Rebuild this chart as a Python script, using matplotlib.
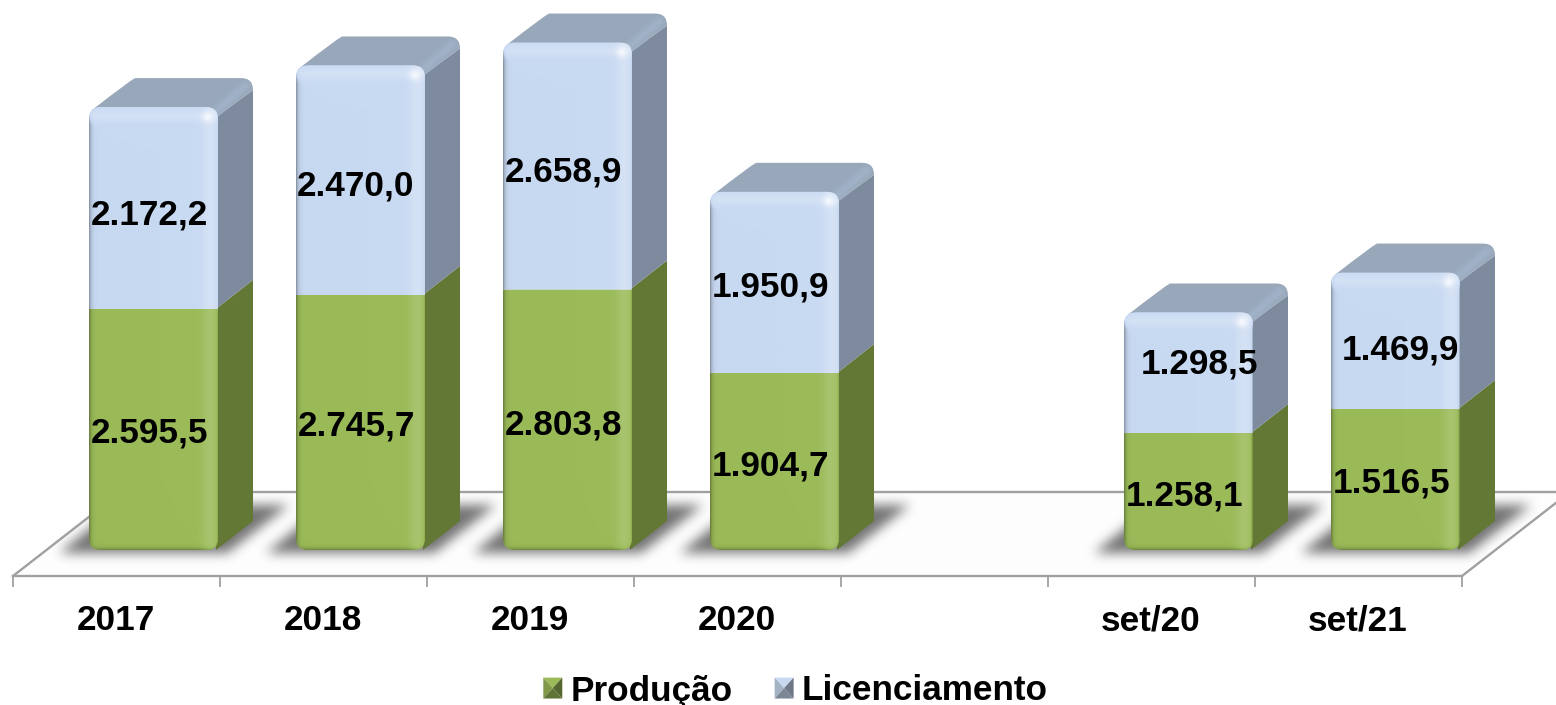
import numpy as np
import matplotlib
matplotlib.use('Agg')
import matplotlib.pyplot as plt
from matplotlib.colors import to_rgb
from matplotlib.legend_handler import HandlerBase
from matplotlib.patches import Patch, PathPatch, Polygon
from matplotlib.path import Path

plt.rcParams['font.family'] = ['Liberation Sans', 'DejaVu Sans']

categories = ['2017', '2018', '2019', '2020', 'set/20', 'set/21']
positions = [0, 1, 2, 3, 5, 6]
producao = [2595.5, 2745.7, 2803.8, 1904.7, 1258.1, 1516.5]
licenciamento = [2172.2, 2470.0, 2658.9, 1950.9, 1298.5, 1469.9]
prod_labels = ['2.595,5', '2.745,7', '2.803,8', '1.904,7', '1.258,1', '1.516,5']
lic_labels = ['2.172,2', '2.470,0', '2.658,9', '1.950,9', '1.298,5', '1.469,9']
tick_edges = [-0.5, 0.5, 1.5, 2.5, 3.5, 4.5, 5.5, 6.5]

# label nudges in pixels (dx, dy down), the originals were moved by hand
prod_nudge = [(-4, 4), (-4, 4), (-4, 5), (-4, 4), (-4, 4), (-4, 3)]
lic_nudge = [(-4, 7), (-5, 6), (-4, 6), (-4, 5), (11, -9), (5, 9)]

GREEN = '#9BBB59'
BLUE = '#C8D9F2'
GREEN_SIDE = '#647836'
BLUE_SIDE = '#7E8B9E'
BLUE_TOP = '#98A8BA'
AXIS_GRAY = '#A0A0A0'
FONT_SIZE = 25.3

W, H = 1556, 705
X_SCALE = 207.0     # pixels per category
Y_SCALE = 0.0929    # pixels per unit
X0, Y0 = 116, 550   # pixel position of category 0 and of value 0
BAR_W = 129
DX, DY = 36, 29     # depth of the 3d effect


def dx(p):
    return p / X_SCALE


def dy(p):
    return p / Y_SCALE


def to_x(p):
    return (p - X0) / X_SCALE


def to_y(p):
    return (Y0 - p) / Y_SCALE


def front_path(x0, x1, y0, y1, r_top, r_bot):
    rx_t, ry_t, rx_b, ry_b = dx(r_top), dy(r_top), dx(r_bot), dy(r_bot)
    verts = [(x0 + rx_b, y0), (x1 - rx_b, y0), (x1, y0), (x1, y0 + ry_b),
             (x1, y1 - ry_t), (x1, y1), (x1 - rx_t, y1),
             (x0 + rx_t, y1), (x0, y1), (x0, y1 - ry_t),
             (x0, y0 + ry_b), (x0, y0), (x0 + rx_b, y0), (x0 + rx_b, y0)]
    codes = [Path.MOVETO, Path.LINETO, Path.CURVE3, Path.CURVE3,
             Path.LINETO, Path.CURVE3, Path.CURVE3,
             Path.LINETO, Path.CURVE3, Path.CURVE3,
             Path.LINETO, Path.CURVE3, Path.CURVE3, Path.CLOSEPOLY]
    return Path(verts, codes)


def front_texture(color, h_px, top, bottom):
    base = np.array(to_rgb(color))
    u, v = np.meshgrid(np.arange(BAR_W), np.arange(h_px))
    band = 0.24 if top else 0.13
    shade = band * np.exp(-((u - 120) / 8.0) ** 2)
    shade = shade - 0.30 * np.exp(-u / 2.0) - 0.25 * np.exp(-(BAR_W - 1 - u) / 1.2)
    if top:
        shade = shade + 0.22 * np.exp(-((v - 8) / 6.0) ** 2)
        shade = shade + 0.40 * np.exp(-((u - 117) / 5.0) ** 2 - ((v - 10) / 5.0) ** 2)
    if bottom:
        shade = shade - 0.25 * np.exp(-(h_px - 1 - v) / 2.0)
    shade = np.clip(shade, -1, 1)[:, :, None]
    return np.where(shade > 0, base + (1 - base) * shade, base * (1 + shade))


def blur(a, size):
    kernel = np.ones(size) / size
    for _ in range(3):
        a = np.apply_along_axis(lambda r: np.convolve(r, kernel, mode='same'), 0, a)
        a = np.apply_along_axis(lambda r: np.convolve(r, kernel, mode='same'), 1, a)
    return a


class PyramidHandler(HandlerBase):
    def create_artists(self, legend, orig_handle, xdescent, ydescent, width, height, fontsize, trans):
        base = np.array(to_rgb(orig_handle.get_facecolor()))
        x0, y0 = -xdescent, -ydescent
        x1, y1 = x0 + width, y0 + height
        xc, yc = (x0 + x1) / 2, (y0 + y1) / 2
        faces = [([(x0, y1), (x1, y1), (xc, yc)], 1.0),
                 ([(x0, y0), (x0, y1), (xc, yc)], 0.82),
                 ([(x1, y0), (x1, y1), (xc, yc)], 0.55),
                 ([(x0, y0), (x1, y0), (xc, yc)], 0.62)]
        return [Polygon(pts, closed=True, facecolor=base * k, edgecolor='none', transform=trans)
                for pts, k in faces]


fig = plt.figure(figsize=(W / 100, H / 100), dpi=100)
ax = fig.add_axes([0, 0, 1, 1])

# floor shadows, one blurred parallelogram per bar
xs = np.array(positions, dtype=float)
bar_left = xs - dx(27)
px, py = np.meshgrid(np.arange(W) + 0.5, np.arange(H) + 0.5)
pts = np.column_stack([px.ravel(), py.ravel()])
mask = np.zeros(W * H, dtype=bool)
for left in X0 + bar_left * X_SCALE:
    poly = Path([(left - 30, 553), (left + 138, 553), (left + 200, 505), (left + 30, 505)])
    mask |= poly.contains_points(pts)
shadow = blur(mask.reshape(H, W).astype(float), 11)
rgba = np.zeros((H, W, 4))
rgba[:, :, :3] = 0.2
rgba[:, :, 3] = shadow * 0.68

xlim = (to_x(0), to_x(W))
ylim = (to_y(H), to_y(0))

# floor
ax.add_patch(Polygon([(to_x(13), to_y(576)), (to_x(1462), to_y(576)), (to_x(1570), to_y(492)), (to_x(121), to_y(492))],
                     closed=True, facecolor='#FDFDFD', edgecolor='none', zorder=0.5))
ax.imshow(rgba, extent=(xlim[0], xlim[1], ylim[0], ylim[1]), origin='upper', aspect='auto',
          interpolation='bilinear', zorder=1)
ax.plot([to_x(13), to_x(121), to_x(W + 14)], [to_y(576), to_y(492), to_y(492)],
        color=AXIS_GRAY, lw=1.7, zorder=1.5, solid_joinstyle='miter')
ax.plot([to_x(1462), to_x(1570)], [to_y(576), to_y(492)], color=AXIS_GRAY, lw=1.7, zorder=1.5)

bars_prod = ax.bar(bar_left + dx(BAR_W) / 2, producao, width=dx(BAR_W), color=GREEN, zorder=4)
bars_lic = ax.bar(bar_left + dx(BAR_W) / 2, licenciamento, width=dx(BAR_W), bottom=producao, color=BLUE, zorder=4)

for i in range(len(xs)):
    b_p, b_l = bars_prod[i], bars_lic[i]
    x0 = b_p.get_x()
    x1 = x0 + b_p.get_width()
    ym = b_p.get_height()
    yt = ym + b_l.get_height()
    xr = x1 - dx(2)
    xb = x1 + dx(DX - 1)

    # sides
    ax.add_patch(Polygon([(xr, 0), (xb, dy(DY)), (xb, ym + dy(DY)), (xr, ym)], closed=True,
                         facecolor=GREEN_SIDE, edgecolor='none', zorder=3))
    ax.add_patch(Polygon([(xr, ym), (xb, ym + dy(DY)), (xb, yt + dy(DY - 12)), (xr, yt - dy(10))], closed=True,
                         facecolor=BLUE_SIDE, edgecolor='none', zorder=3))

    # top face with the rounded back corner
    top = Path([(x0 + dx(3), yt - dy(3)), (x0 + dx(40), yt + dy(DY - 3)), (x0 + dx(46), yt + dy(DY)),
                (xb - dx(12), yt + dy(DY)), (xb, yt + dy(DY)), (xb, yt + dy(DY - 12)), (xr, yt - dy(10)),
                (x0 + dx(3), yt - dy(3)), (x0 + dx(3), yt - dy(3))],
               [Path.MOVETO, Path.CURVE3, Path.CURVE3, Path.LINETO, Path.CURVE3, Path.CURVE3, Path.LINETO,
                Path.LINETO, Path.CLOSEPOLY])
    ax.add_patch(PathPatch(top, facecolor=BLUE_TOP, edgecolor='none', zorder=3))

    # soft bevel between top and side
    for lw, alpha in [(9, 0.18), (6, 0.22), (3, 0.25)]:
        ax.plot([x1 - dx(2), xb - dx(8)], [yt - dy(4), yt + dy(DY - 8)], color='#A8BBD2', lw=lw, alpha=alpha,
                zorder=3.2, solid_capstyle='round')

    # fronts with their shading, clipped to the rounded outline
    for bar, r_t, r_b, is_top in [(b_p, 0, 12, False), (b_l, 12, 0, True)]:
        y0, y1 = bar.get_y(), bar.get_y() + bar.get_height()
        path = front_path(x0, x1, y0, y1, r_t, r_b)
        clip = PathPatch(path, facecolor='none', edgecolor='none', transform=ax.transData)
        ax.add_patch(clip)
        bar.set_clip_path(clip)
        h_px = int(round((y1 - y0) * Y_SCALE))
        color = BLUE if is_top else GREEN
        im = ax.imshow(front_texture(color, h_px, is_top, not is_top), extent=(x0, x1, y0, y1), origin='upper',
                       aspect='auto', interpolation='bilinear', zorder=5)
        im.set_clip_path(clip)

    # labels
    cx = (x0 + x1) / 2
    ax.text(cx + dx(prod_nudge[i][0]), ym / 2 - dy(prod_nudge[i][1]), prod_labels[i], fontsize=FONT_SIZE,
            fontweight='bold', ha='center', va='center', color='black', zorder=6)
    ax.text(cx + dx(lic_nudge[i][0]), ym + b_l.get_height() / 2 - dy(lic_nudge[i][1]), lic_labels[i], fontsize=FONT_SIZE,
            fontweight='bold', ha='center', va='center', color='black', zorder=6)

ax.set_xlim(xlim)
ax.set_ylim(ylim)

# axis at the front of the floor
for name in ['top', 'left', 'right']:
    ax.spines[name].set_visible(False)
ax.spines['bottom'].set_position(('data', to_y(576)))
ax.spines['bottom'].set_bounds(tick_edges[0], tick_edges[-1])
ax.spines['bottom'].set_color(AXIS_GRAY)
ax.spines['bottom'].set_linewidth(1.7)
ax.spines['bottom'].set_zorder(1.5)
ax.set_yticks([])
ax.set_xticks(tick_edges)
ax.set_xticklabels([])
ax.tick_params(axis='x', which='major', length=8, width=1.3, color=AXIS_GRAY)
ax.set_xticks(positions, minor=True)
ax.set_xticklabels(categories, minor=True, fontsize=FONT_SIZE, fontweight='bold')
ax.tick_params(axis='x', which='minor', length=0, pad=20.5)

handles = [Patch(facecolor=GREEN, label='Produção'), Patch(facecolor=BLUE, label='Licenciamento')]
ax.legend(handles=handles, handler_map={Patch: PyramidHandler()}, loc='center', ncol=2, frameon=False,
          bbox_to_anchor=(795.5 / W, 1 - 691 / H), prop={'size': FONT_SIZE, 'weight': 'bold'},
          handlelength=0.54, handleheight=0.54, handletextpad=0.23, columnspacing=1.2, borderpad=0, borderaxespad=0)

fig.savefig('out.png', dpi=100)
